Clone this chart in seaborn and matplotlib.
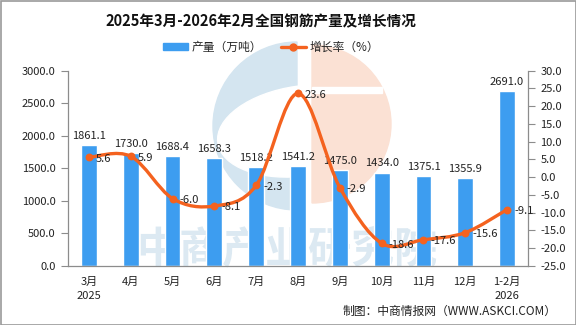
import numpy as np
import pandas as pd
import seaborn as sns
import matplotlib
matplotlib.use('Agg')
import matplotlib.pyplot as plt
from matplotlib.path import Path
from matplotlib.patches import PathPatch, Patch, Wedge, Ellipse, Rectangle
from matplotlib.lines import Line2D
from matplotlib.ticker import FixedLocator
import matplotlib.transforms as mtransforms

# ---------------- data ----------------
months = ['3月\n2025', '4月', '5月', '6月', '7月', '8月', '9月', '10月', '11月', '12月', '1-2月\n2026']
production = [1861.1, 1730.0, 1688.4, 1658.3, 1518.2, 1541.2, 1475.0, 1434.0, 1375.1, 1355.9, 2691.0]
growth = [5.6, 5.9, -6.0, -8.1, -2.3, 23.6, -2.9, -18.6, -17.6, -15.6, -9.1]
left_ticks = [0, 500, 1000, 1500, 2000, 2500, 3000]
right_ticks = [-25, -20, -15, -10, -5, 0, 5, 10, 15, 20, 25, 30]
title = '2025年3月-2026年2月全国钢筋产量及增长情况'
bar_label = '产量（万吨）'
line_label = '增长率（%）'
source = '制图：中商情报网（WWW.ASKCI.COM）'
watermark = '中商产业研究院'

bar_color = '#3d9df0'
line_color = '#f4621f'
axis_color = '#8c8c8c'

sns.set_theme(style='white')
plt.rcParams['font.family'] = ['Noto Sans CJK SC', 'DejaVu Sans']
plt.rcParams['axes.unicode_minus'] = False

W, H = 576, 325
fig = plt.figure(figsize=(W / 100, H / 100), dpi=100)
fig.patch.set_facecolor('white')

# pixel transform (image coords, y down)
pxt = mtransforms.Affine2D().scale(1, -1).translate(0, H)

# ---------- watermark logo (decorative, behind everything) ----------
blue_wm = '#d4e5f0'
orange_wm = '#fbe1d4'
fig.patches.append(Wedge((297, 126), 84, 90, 270, transform=pxt, color=blue_wm, zorder=-3))
fig.patches.append(Ellipse((302, 131), 170, 90, angle=-8, transform=pxt, color='white', zorder=-2.5))
fig.patches.append(Wedge((312, 124), 79, -90, 90, transform=pxt, color=orange_wm, zorder=-2))
fig.patches.append(Rectangle((312, 87), 70, 6, transform=pxt, color='white', zorder=-1.5))
fig.text(287 / W, 1 - 249 / H, watermark, fontsize=31, fontweight='bold',
         color='#dce9f2', ha='center', va='center', zorder=-1)

# ---------------- axes ----------------
ax = fig.add_axes([68 / W, 1 - 266 / H, 460 / W, (266 - 70.7) / H])
ax.patch.set_visible(False)

df = pd.DataFrame({'month': months, 'production': production})
sns.barplot(data=df, x='month', y='production', color=bar_color, saturation=1,
            width=0.38, ax=ax, zorder=2)
ax.set_xlim(-0.5, len(months) - 0.5)
ax.set_ylim(0, 3000)
ax.set_yticks(left_ticks)
ax.set_yticklabels([f'{v:.1f}' for v in left_ticks], fontsize=8, color='#222222')
ax.set_xticks(range(len(months)))
ax.set_xticklabels(months, fontsize=8, color='#222222', linespacing=1.5)
ax.xaxis.set_minor_locator(FixedLocator(np.arange(-0.5, len(months), 1.0)))
ax.tick_params(axis='x', which='major', length=0, pad=8)
ax.tick_params(axis='x', which='minor', length=5, width=0.8, color=axis_color, direction='out')
ax.tick_params(axis='y', length=5, width=0.8, color=axis_color, direction='out', pad=4)
ax.set_xlabel('')
ax.set_ylabel('')
for s in ['top', 'right']:
    ax.spines[s].set_visible(False)
for s in ['left', 'bottom']:
    ax.spines[s].set_color(axis_color)
    ax.spines[s].set_linewidth(0.9)

for i, v in enumerate(production):
    ax.annotate(f'{v:.1f}', (i, v), xytext=(0, 3), textcoords='offset points',
                ha='center', va='bottom', fontsize=8, color='#222222', zorder=5)

ax2 = ax.twinx()
ax2.set_ylim(-25, 30)
ax2.set_yticks(right_ticks)
ax2.set_yticklabels([f'{v:.1f}' for v in right_ticks], fontsize=8, color='#222222')
ax2.tick_params(axis='y', length=5, width=0.8, color=axis_color, direction='out', pad=4)
for s in ['top', 'left', 'bottom']:
    ax2.spines[s].set_visible(False)
ax2.spines['right'].set_color(axis_color)
ax2.spines['right'].set_linewidth(0.9)

# smooth (Catmull-Rom -> cubic Bezier) line through the growth points
xs = np.arange(len(growth), dtype=float)
ys = np.array(growth, dtype=float)
n = len(xs)
verts = [(xs[0], ys[0])]
codes = [Path.MOVETO]
k = 1.0 / 6.0
for i in range(n - 1):
    i0 = max(i - 1, 0)
    i3 = min(i + 2, n - 1)
    c1 = (xs[i] + (xs[i + 1] - xs[i0]) * k, ys[i] + (ys[i + 1] - ys[i0]) * k)
    c2 = (xs[i + 1] - (xs[i3] - xs[i]) * k, ys[i + 1] - (ys[i3] - ys[i]) * k)
    verts += [c1, c2, (xs[i + 1], ys[i + 1])]
    codes += [Path.CURVE4, Path.CURVE4, Path.CURVE4]
ax2.add_patch(PathPatch(Path(verts, codes), facecolor='none', edgecolor=line_color,
                        lw=2.4, capstyle='round', zorder=3))
sns.scatterplot(x=xs, y=ys, ax=ax2, color=line_color, s=32, edgecolor=line_color,
                linewidth=0, zorder=4, legend=False)
ax2.set_xlim(-0.5, len(months) - 0.5)

for i, g in enumerate(growth):
    ax2.annotate(f'{g:.1f}', (i, g), xytext=(5, -1), textcoords='offset points',
                 ha='left', va='center', fontsize=8, color='#222222', zorder=5)

# ---------------- legend, title, source ----------------
handles = [Patch(facecolor=bar_color, edgecolor=bar_color, label=bar_label),
           Line2D([0], [0], color=line_color, lw=2.4, marker='o', ms=5, label=line_label)]
fig.legend(handles=handles, loc='center', bbox_to_anchor=(271 / W, 1 - 47 / H), ncol=2,
           frameon=False, fontsize=8.5, handlelength=2.1, handleheight=0.6,
           columnspacing=1.6, handletextpad=0.3)

fig.text(261 / W, 1 - 21 / H, title, ha='center', va='center', fontsize=10.5,
         fontweight='bold', color='#111111')
fig.text(557 / W, 1 - 311 / H, source, ha='right', va='center', fontsize=8.5, color='#222222')

fig.patches.append(Rectangle((0.5, 0.5), W - 1, H - 1, transform=pxt, fill=False,
                             edgecolor='#9a9a9a', lw=1.2, zorder=10))

fig.savefig('out.png', dpi=100)
